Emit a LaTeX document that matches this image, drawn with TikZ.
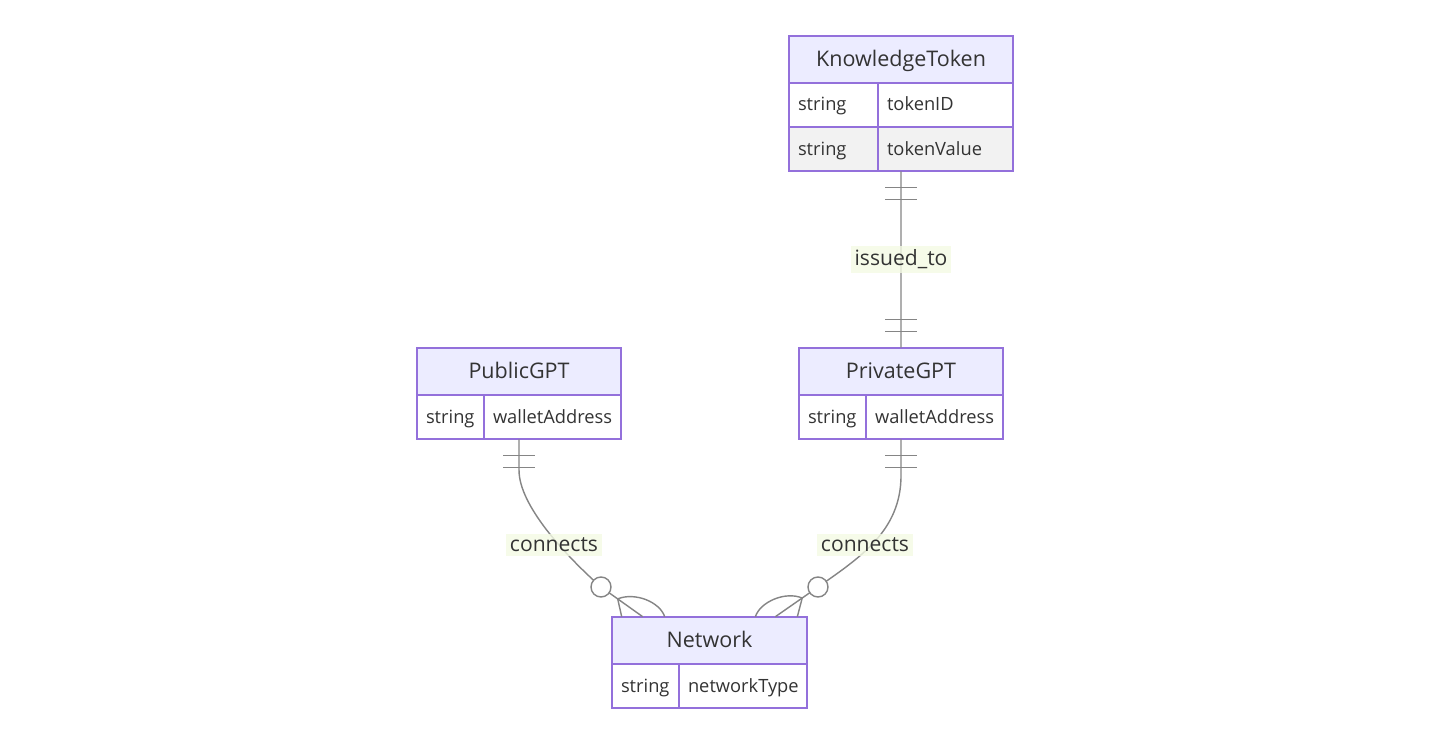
\documentclass[tikz,border=0pt]{standalone}
\usepackage{fontspec}
\setmainfont{Open Sans}
\usepackage{xcolor}
\usetikzlibrary{positioning,fit,calc}
\definecolor{erborder}{HTML}{9370DB}
\definecolor{erhead}{HTML}{ECECFF}
\definecolor{errowgray}{HTML}{F2F2F2}
\definecolor{ertext}{HTML}{333333}
\definecolor{erline}{HTML}{858585}
\definecolor{erlabel}{HTML}{F4FBE4}

\begin{document}
\begin{tikzpicture}[x=0.025cm, y=-0.025cm, text=ertext,
  hdr/.style={draw=erborder, fill=erhead, line width=1.1pt, outer sep=0pt,
    anchor=north west, minimum height=1.175cm, inner sep=0pt,
    text height=13.5pt, text depth=3pt,
    font=\fontsize{15.3}{18}\selectfont},
  cell/.style={draw=erborder, fill=white, line width=1.1pt, outer sep=0pt,
    minimum height=1.1cm, inner xsep=0.225cm, inner ysep=0pt,
    text width=#1, align=left, text height=11.5pt, text depth=3pt,
    font=\fontsize{13}{15}\selectfont},
  cellg/.style={cell=#1, fill=errowgray},
  rel/.style={draw=erline, line width=1pt},
  circ/.style={circle, draw=erline, line width=1pt, fill=white,
    minimum size=0.5cm, inner sep=0pt},
  lbl/.style={fill=erlabel, fill opacity=0.8, text opacity=1,
    inner xsep=2.5pt, inner ysep=3pt, font=\fontsize{15}{18}\selectfont}]
  \useasboundingbox (0,0) rectangle (1430,745);
  \fill[white] (0,0) rectangle (1430,745);

  % entities
  \node[hdr, minimum width=5.6cm] (kt) at (789,36) {KnowledgeToken};
  \node[cell=1.775cm, below right=0pt and 0pt of kt.south west] (ktT1) {string};
  \node[cell=2.925cm, right=0pt of ktT1] (ktN1) {tokenID};
  \node[cellg=1.775cm, below=0pt of ktT1] (ktT2) {string};
  \node[cellg=2.925cm, right=0pt of ktT2] (ktN2) {tokenValue};
  \node[fit=(kt)(ktN2), inner sep=0pt] (ktE) {};

  \node[hdr, minimum width=5.1cm] (priv) at (799,348) {PrivateGPT};
  \node[cell=1.225cm, below right=0pt and 0pt of priv.south west] (privT) {string};
  \node[cell=2.975cm, right=0pt of privT] (privN) {walletAddress};
  \node[fit=(priv)(privN), inner sep=0pt] (privE) {};

  \node[hdr, minimum width=5.1cm] (pub) at (417,348) {PublicGPT};
  \node[cell=1.225cm, below right=0pt and 0pt of pub.south west] (pubT) {string};
  \node[cell=2.975cm, right=0pt of pubT] (pubN) {walletAddress};
  \node[fit=(pub)(pubN), inner sep=0pt] (pubE) {};

  \node[hdr, minimum width=4.875cm] (net) at (612,617) {Network};
  \node[cell=1.225cm, below right=0pt and 0pt of net.south west] (netT) {string};
  \node[cell=2.75cm, right=0pt of netT] (netN) {networkType};
  \node[fit=(net)(netN), inner sep=0pt] (netE) {};

  % relationships
  \coordinate (pubC) at (601,587);
  \coordinate (privC) at (818,587);
  \coordinate (netL) at ($(netE.north west)+(31,0)$);
  \coordinate (netR) at ($(netE.north east)+(-32,0)$);
  \draw[rel] (ktE.south) -- (privE.north);
  \draw[rel] (pubE.south) -- ++(0,31) .. controls +(0,35) and (565,555) .. (pubC) -- (netL);
  \draw[rel] (privE.south) -- ++(0,36) .. controls +(0,55) and (861,557) .. (privC) -- (netR);

  % exactly one
  \foreach \d in {16,28}{
    \draw[rel] ($(ktE.south)+(-16,\d)$) -- ++(32,0);
    \draw[rel] ($(privE.north)+(-16,-\d)$) -- ++(32,0);
    \draw[rel] ($(pubE.south)+(-16,\d)$) -- ++(32,0);
    \draw[rel] ($(privE.south)+(-16,\d)$) -- ++(32,0);
  }

  % zero or more
  \node[circ] (pubO) at (pubC) {};
  \node[circ] (privO) at (privC) {};
  \coordinate (pubF) at ($(pubC)!0.4!(netL)$);
  \coordinate (privF) at ($(privC)!0.37!(netR)$);
  \draw[rel] (pubF) -- ($(netE.north west)+(10,0)$);
  \draw[rel] (pubF) .. controls +(17,-7) and +(-5,-15) .. ($(netE.north west)+(53,0)$);
  \draw[rel] (privF) -- ($(netE.north east)+(-10,0)$);
  \draw[rel] (privF) .. controls +(-17,-7) and +(5,-15) .. ($(netE.north east)+(-52,0)$);

  % labels
  \node[lbl] (issued) at ($(ktE.south)!0.5!(privE.north)$) {issued\_to};
  \node[lbl] (pubL) at (554,545) {connects};
  \node[lbl] (privL) at (865,545) {connects};
\end{tikzpicture}
\end{document}
